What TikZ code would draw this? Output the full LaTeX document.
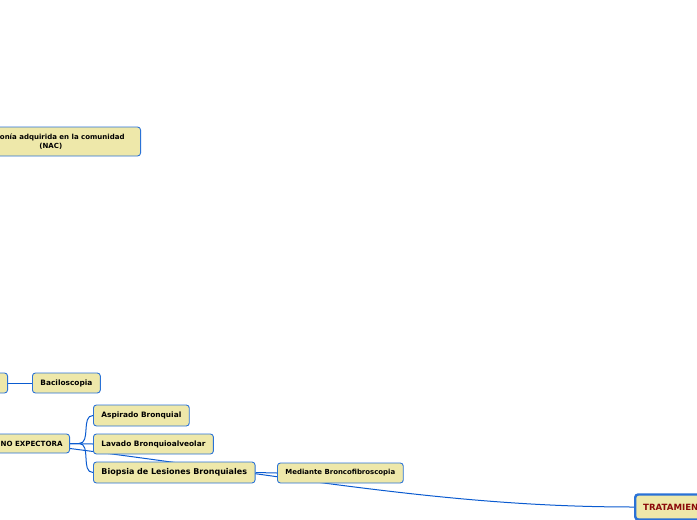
\documentclass[tikz,border=0pt]{standalone}
\usepackage{fontspec}
\setmainfont{DejaVu Sans}
\usetikzlibrary{backgrounds}
\definecolor{caja}{HTML}{EEE8AA}
\definecolor{borde}{HTML}{2A72D6}
\definecolor{enlace}{HTML}{0A5BD0}
\definecolor{rojo}{HTML}{8B0A0A}
\tikzset{
  tema/.style={draw=borde,fill=caja,rounded corners=3pt,line width=0.9pt,
    font=\bfseries\fontsize{7.4}{8.6}\selectfont,inner xsep=8pt,
    minimum height=20pt,align=center},
  raiz/.style={tema,line width=2.4pt,text=rojo,minimum height=25pt,
    font=\bfseries\fontsize{8.6}{10}\selectfont},
  link/.style={draw=enlace,line width=1pt}
}
\begin{document}
\begin{tikzpicture}[x=1pt,y=-1pt]
    \useasboundingbox (0,0) rectangle (697,520);
    % Nodos
    \node[tema,minimum height=29pt,inner xsep=16pt,anchor=east,
        font=\bfseries\fontsize{7}{9.5}\selectfont] (nac) at (141,141.5)
        {Neumonía adquirida en la comunidad\\(NAC)};
    \node[tema,minimum width=60pt,anchor=east] (esp) at (8,383) {};
    \node[tema,anchor=west] (bacilo) at (32,383) {Baciloscopia};
    \node[tema,anchor=east,minimum height=19pt,inner xsep=7pt,
        font=\bfseries\fontsize{7.1}{8.6}\selectfont] (nox) at (70,443.5) {NO EXPECTORA};
    \node[tema,anchor=west,minimum height=21pt] (asp) at (93,415.5) {Aspirado Bronquial};
    \node[tema,anchor=west] (lav) at (93,444) {Lavado Bronquioalveolar};
    \node[tema,anchor=west,minimum height=21pt,
        font=\bfseries\fontsize{8}{10}\selectfont] (bio) at (93,472.5)
        {Biopsia de Lesiones Bronquiales};
    \node[tema,anchor=west,font=\bfseries\fontsize{6.95}{8}\selectfont] (med) at (277,473)
        {Mediante Broncofibroscopia};
    \node[raiz,anchor=west] (trat) at (634,507) {TRATAMIENTO};
    % Conectores
    \begin{scope}[on background layer]
        \draw[link] (esp.east) -- (bacilo.west);
        \draw[link] (nox.east) -- ++(9,0) to[out=0,in=180] (asp.west);
        \draw[link] (nox.east) -- (lav.west);
        \draw[link] (nox.east) -- ++(9,0) to[out=0,in=180] (bio.west);
        \draw[link] (bio.east) -- (med.west);
        \draw[link] ([yshift=-5pt]nox.east) .. controls (300,478) and (450,507) .. (trat.west);
    \end{scope}
\end{tikzpicture}
\end{document}
